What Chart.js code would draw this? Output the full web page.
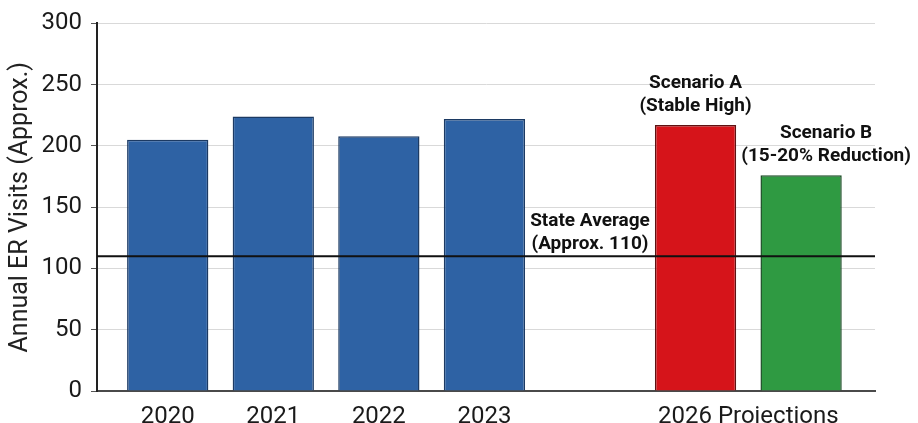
<!DOCTYPE html>
<html>
<head>
<meta charset="utf-8">
<title>Annual ER Visits</title>
<script src="https://cdn.jsdelivr.net/npm/chart.js@4.4.1/dist/chart.umd.min.js"></script>
<style>
  html, body { margin: 0; padding: 0; background: #fff; overflow: hidden; }
  .chart-wrapper { position: relative; width: 918px; height: 440px; }
</style>
</head>
<body>
<div class="chart-wrapper"><canvas id="er-visits-chart"></canvas></div>
<script>
const years = ['2020', '2021', '2022', '2023'];
const yearVisits = [205, 224, 208, 222];
const scenarioNames = ['Scenario A', 'Scenario B'];
const scenarioNotes = ['(Stable High)', '(15-20% Reduction)'];
const scenarioVisits = [217, 176];
const projectionLabel = '2026 Projections';
const stateAverage = 110;
const stateAverageNotes = ['State Average', '(Approx. 110)'];
const yTitle = 'Annual ER Visits (Approx.)';

// slot 4 stays empty, the two scenarios sit in slots 5 and 6
const yearSlots = years.map((_, i) => i);
const gapSlot = years.length;
const scenarioSlots = scenarioNames.map((_, i) => years.length + 1 + i);
const xTickSlots = [...yearSlots, (scenarioSlots[0] + scenarioSlots[1]) / 2];
const xTickLabels = [...years, projectionLabel];

const xMin = -0.67;
const xMax = 6.7;
const fontFamily = 'Roboto, "Liberation Sans", sans-serif';

const barColors = ['#2e62a4', '#2e62a4', '#2e62a4', '#2e62a4', '#d6141a', '#2f9a42'];
const barBorders = ['#1c3a63', '#1c3a63', '#1c3a63', '#1c3a63', '#5e1212', '#1c4c26'];

Chart.defaults.font.family = fontFamily;

const noteLabels = {
  id: 'noteLabels',
  afterDatasetsDraw(chart) {
    const { ctx, scales: { x, y } } = chart;
    const lineHeight = 23;

    const drawLines = (lines, cx, bottom) => {
      lines.forEach((line, i) => {
        ctx.fillText(line, cx, bottom - (lines.length - 1 - i) * lineHeight);
      });
    };

    ctx.save();
    ctx.fillStyle = '#111';
    ctx.font = `bold 19px ${fontFamily}`;
    ctx.textAlign = 'center';
    ctx.textBaseline = 'middle';

    drawLines([scenarioNames[0], scenarioNotes[0]],
      x.getPixelForValue(scenarioSlots[0]), y.getPixelForValue(scenarioVisits[0]) - 19);
    drawLines([scenarioNames[1], scenarioNotes[1]],
      x.getPixelForValue(scenarioSlots[1]) + 25, y.getPixelForValue(scenarioVisits[1]) - 19);
    drawLines(stateAverageNotes,
      x.getPixelForValue(gapSlot), y.getPixelForValue(stateAverage) - 12);
    ctx.restore();
  },
};

const barData = [
  ...yearSlots.map((slot, i) => ({ x: slot, y: yearVisits[i] })),
  ...scenarioSlots.map((slot, i) => ({ x: slot, y: scenarioVisits[i] })),
];

const chart = new Chart(document.getElementById('er-visits-chart'), {
  type: 'bar',
  data: {
    datasets: [
      {
        type: 'line',
        data: [{ x: xMin, y: stateAverage }, { x: xMax, y: stateAverage }],
        borderColor: '#111',
        borderWidth: 2,
        pointRadius: 0,
        order: 0,
      },
      {
        data: barData,
        backgroundColor: barColors,
        borderColor: barBorders,
        borderWidth: 1.5,
        categoryPercentage: 1,
        barPercentage: 0.77,
        order: 1,
      },
    ],
  },
  options: {
    responsive: true,
    maintainAspectRatio: false,
    animation: false,
    layout: { padding: { top: 19, right: 43, left: 0, bottom: 0 } },
    plugins: {
      legend: { display: false },
      tooltip: { enabled: false },
    },
    scales: {
      x: {
        type: 'linear',
        offset: false,
        min: xMin,
        max: xMax,
        grid: { display: false, drawTicks: false },
        border: { display: true, color: '#4a4a4a', width: 2 },
        ticks: {
          autoSkip: false,
          maxRotation: 0,
          padding: 12,
          color: '#1a1a1a',
          font: { size: 24 },
          callback: (value, index) => xTickLabels[index],
        },
        afterBuildTicks: (scale) => {
          scale.ticks = xTickSlots.map((value) => ({ value }));
        },
        afterFit: (scale) => {
          scale.height = 49;
        },
      },
      y: {
        min: 0,
        max: 300,
        title: {
          display: true,
          text: yTitle,
          color: '#222',
          font: { size: 25 },
          padding: { top: 6, bottom: 0 },
        },
        grid: {
          color: (ctx) => (ctx.tick && ctx.tick.value === 0 ? 'rgba(0,0,0,0)' : '#d9d9d9'),
          tickColor: '#555',
          tickLength: 6,
          lineWidth: 1,
        },
        border: { color: '#222', width: 2 },
        ticks: {
          stepSize: 50,
          padding: 9,
          color: '#1a1a1a',
          font: { size: 24 },
        },
        afterFit: (scale) => {
          scale.width = 97;
        },
      },
    },
  },
  plugins: [noteLabels],
});
</script>
</body>
</html>
